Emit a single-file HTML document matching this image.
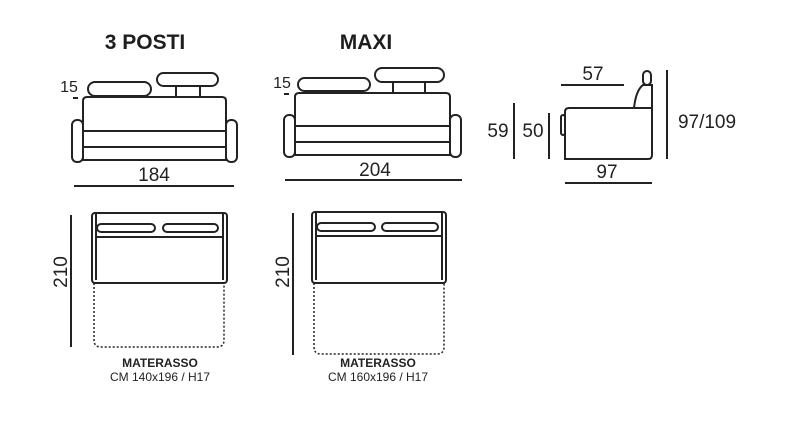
<!DOCTYPE html>
<html><head><meta charset="utf-8"><style>
html,body{margin:0;padding:0;background:#fff;}
svg{display:block;font-family:"Liberation Sans",sans-serif;}
</style></head><body>
<svg width="790" height="441" viewBox="0 0 790 441" xmlns="http://www.w3.org/2000/svg">
<rect width="790" height="441" fill="#fff"/>
<g fill="#1e1e1e" font-weight="bold" font-size="21" text-anchor="middle">
<text x="145" y="49">3 POSTI</text>
<text x="366" y="49">MAXI</text>
</g>
<g fill="none" stroke="#222" stroke-width="2">
<rect x="88" y="82" width="63" height="14" rx="7"/>
<rect x="157" y="73" width="61" height="13" rx="6.5"/>
<line x1="176" y1="86" x2="176" y2="97"/><line x1="200" y1="86" x2="200" y2="97"/>
<path d="M83 160 V101 Q83 97 87 97 H222 Q226 97 226 101 V160 Z"/>
<rect x="72" y="120" width="11" height="42" rx="5"/>
<rect x="226" y="120" width="11" height="42" rx="5"/>
<line x1="83" y1="131" x2="226" y2="131"/>
<line x1="83" y1="147" x2="226" y2="147"/>
<line x1="83" y1="160" x2="226" y2="160"/>
<line x1="74" y1="186" x2="234" y2="186"/>
<line x1="73" y1="98" x2="78" y2="98"/>
<rect x="298" y="78" width="72" height="13" rx="6.5"/>
<rect x="375" y="68" width="69" height="14" rx="7"/>
<line x1="393" y1="82" x2="393" y2="93"/><line x1="425" y1="82" x2="425" y2="93"/>
<path d="M295 155 V97 Q295 93 299 93 H446 Q450 93 450 97 V155 Z"/>
<rect x="284" y="115" width="11" height="42" rx="5"/>
<rect x="450" y="115" width="11" height="42" rx="5"/>
<line x1="295" y1="126" x2="450" y2="126"/>
<line x1="295" y1="142" x2="450" y2="142"/>
<line x1="285" y1="180" x2="462" y2="180"/>
<line x1="284" y1="94" x2="289" y2="94"/>
<rect x="92" y="213" width="135" height="70" rx="3"/>
<line x1="96" y1="237" x2="223" y2="237"/>
<line x1="96" y1="213" x2="96" y2="280"/><line x1="223" y1="213" x2="223" y2="280"/>
<rect x="97" y="224" width="58" height="8" rx="4"/>
<rect x="163" y="224" width="55" height="8" rx="4"/>
<path d="M94 283 V340 Q94 347 101 347 H217 Q224 347 224 340 V283" stroke-dasharray="2 2" stroke-width="1.5"/>
<line x1="71" y1="215" x2="71" y2="347"/>
<rect x="312" y="212" width="134" height="71" rx="3"/>
<line x1="316" y1="236" x2="442" y2="236"/>
<line x1="316" y1="212" x2="316" y2="280"/><line x1="442" y1="212" x2="442" y2="280"/>
<rect x="317" y="223" width="58" height="8" rx="4"/>
<rect x="382" y="223" width="56" height="8" rx="4"/>
<path d="M314 283 V347 Q314 354 321 354 H437 Q444 354 444 347 V283" stroke-dasharray="2 2" stroke-width="1.5"/>
<line x1="293" y1="213" x2="293" y2="355"/>
<path d="M565 159 V112 Q565 108 569 108 H652 V155 Q652 159 648 159 Z"/>
<path d="M634 108 Q636 90 643 85 H652 V108"/>
<rect x="643" y="71" width="8" height="14" rx="4"/>
<rect x="561" y="115" width="4" height="20" rx="2"/>
<line x1="561" y1="85" x2="624" y2="85"/>
<line x1="514" y1="103" x2="514" y2="159"/>
<line x1="549" y1="113" x2="549" y2="159"/>
<line x1="667" y1="70" x2="667" y2="159"/>
<line x1="565" y1="183" x2="652" y2="183"/>
</g>
<g fill="#222" font-size="19" text-anchor="middle">
<text x="154" y="181">184</text>
<text x="375" y="176">204</text>
<text x="593" y="80">57</text>
<text x="607" y="178">97</text>
<text x="498" y="137">59</text>
<text x="533" y="137">50</text>
<text x="707" y="128">97/109</text>
<text x="69" y="92" font-size="16">15</text>
<text x="282" y="88" font-size="16">15</text>
<text transform="translate(67 272) rotate(-90)">210</text>
<text transform="translate(289 272) rotate(-90)">210</text>
</g>
<g fill="#222" text-anchor="middle">
<text x="160" y="367" font-size="12" font-weight="bold">MATERASSO</text>
<text x="160" y="381" font-size="12">CM 140x196 / H17</text>
<text x="378" y="367" font-size="12" font-weight="bold">MATERASSO</text>
<text x="378" y="381" font-size="12">CM 160x196 / H17</text>
</g>
</svg>
</body></html>
